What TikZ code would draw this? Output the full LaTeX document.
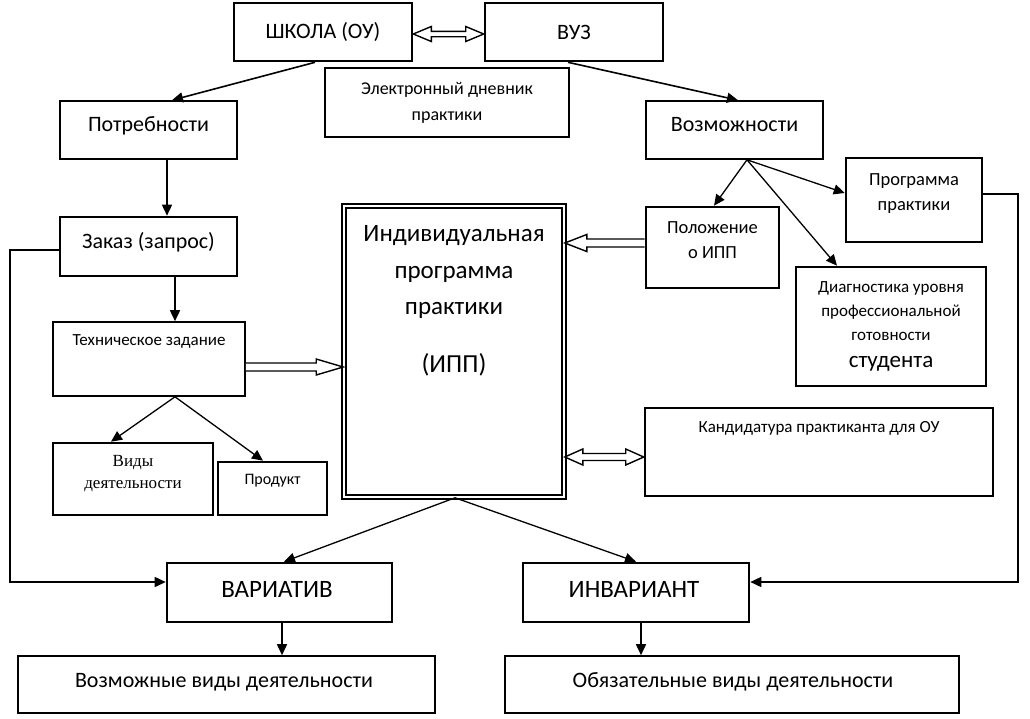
\documentclass[tikz,border=0pt]{standalone}
\usepackage{fontspec}
\setmainfont{Carlito}
\newfontfamily\vidyfont{Liberation Serif}
\usetikzlibrary{arrows.meta,calc}
\newcommand{\fsz}[2]{\fontsize{#1}{#2}\selectfont}
% open block arrow: #1 head length, #2 head half width, #3 shaft half width, #4 from, #5 to (tip)
\newcommand{\blkarrow}[5]{%
  \draw[blk] ($(#4)+(0,#3)$) -- ($(#5)!#1!(#4)+(0,#3)$) -- ($(#5)!#1!(#4)+(0,#2)$) -- (#5)
    -- ($(#5)!#1!(#4)+(0,-#2)$) -- ($(#5)!#1!(#4)+(0,-#3)$) -- ($(#4)+(0,-#3)$);}
\newcommand{\dblblkarrow}[5]{%
  \draw[blk] (#4) -- ($(#4)!#1!(#5)+(0,-#2)$) -- ($(#4)!#1!(#5)+(0,-#3)$) -- ($(#5)!#1!(#4)+(0,-#3)$)
    -- ($(#5)!#1!(#4)+(0,-#2)$) -- (#5) -- ($(#5)!#1!(#4)+(0,#2)$) -- ($(#5)!#1!(#4)+(0,#3)$)
    -- ($(#4)!#1!(#5)+(0,#3)$) -- ($(#4)!#1!(#5)+(0,#2)$) -- cycle;}
\tikzset{
  box/.style={draw, line width=1.6pt, inner sep=0pt, align=center},
  tbox/.style={draw, line width=2.6pt, inner sep=0pt, align=center},
  arr/.style={line width=1.6pt, -{Triangle[length=11pt,width=10pt]}},
  tarr/.style={line width=1.3pt, -{Triangle[length=11pt,width=10pt]}},
  blk/.style={line width=1.4pt, fill=white, line join=miter},
  txt/.style={inner sep=0pt, align=center},
  big/.style={font=\fsz{22}{26}},
  caps/.style={font=\fsz{25}{28}},
  mid/.style={font=\fsz{18}{26}},
}
\begin{document}
\begin{tikzpicture}[x=1pt,y=-1pt]
\useasboundingbox (0,0) rectangle (1030,718);
% boxes
\node[tbox, big, minimum width=178pt, minimum height=58pt] (shkola) at (323,32) {ШКОЛА (ОУ)};
\node[tbox, big, minimum width=178pt, minimum height=58pt] (vuz) at (574,32) {ВУЗ};
\node[box, mid, minimum width=244pt, minimum height=69pt] (diary) at (447,102.5) {Электронный дневник\\практики};
\node[box, minimum width=177pt, minimum height=58pt] (potr) at (148.5,130) {};
\node[txt, big] (potrtxt) at (148.5,126) {Потребности};
\node[box, minimum width=177pt, minimum height=58pt] (vozm) at (734.5,130) {};
\node[txt, big] (vozmtxt) at (734.5,125) {Возможности};
\node[tbox, minimum width=177pt, minimum height=59pt] (zakaz) at (148.5,246.5) {};
\node[txt, big] (zakaztxt) at (148.5,242) {Заказ (запрос)};
\node[box, minimum width=192pt, minimum height=74pt] (tz) at (149,359) {};
\node[txt, font=\fsz{17}{22}] (tztxt) at (149,341) {Техническое задание};
\node[tbox, minimum width=160pt, minimum height=72pt] (vidy) at (133,479) {};
\node[txt, font=\vidyfont\fsz{17}{22}] (vidytxt) at (133,474) {Виды\\деятельности};
\node[tbox, minimum width=109pt, minimum height=53pt] (prod) at (272.5,488.5) {};
\node[txt, font=\fsz{16}{20}] (prodtxt) at (272.5,481) {Продукт};
\node[draw, double, double distance=2.5pt, line width=1.6pt, minimum width=220pt, minimum height=291pt] (ipp) at (454,351.5) {};
\node[txt, font=\fsz{25}{36.5}] (ipptxt) at (454,272) {Индивидуальная\\программа\\практики};
\node[txt, font=\fsz{26}{30}] (ippabbr) at (454,365) {(ИПП)};
\node[tbox, minimum width=133pt, minimum height=81pt] (pol) at (712.5,247.5) {};
\node[txt, font=\fsz{18.5}{25}] (poltxt) at (712.5,240) {Положение\\о ИПП};
\node[tbox, minimum width=136pt, minimum height=84pt] (prog) at (914,200) {};
\node[txt, font=\fsz{18.5}{25}] (progtxt) at (914,194) {Программа\\практики};
\node[tbox, minimum width=190pt, minimum height=119pt] (diag) at (891,326.5) {};
\node[txt, font=\fsz{17}{24}] (diagtxt) at (891,311) {Диагностика уровня\\профессиональной\\готовности};
\node[txt, font=\fsz{23}{26}] (diagstud) at (891,364) {студента};
\node[tbox, minimum width=348pt, minimum height=88pt] (kand) at (819,452) {};
\node[txt, font=\fsz{17}{20}] (kandtxt) at (819,428) {Кандидатура практиканта для ОУ};
\node[tbox, minimum width=225pt, minimum height=59pt] (var) at (279.5,592.5) {};
\node[txt, caps] (vartxt) at (277,589) {ВАРИАТИВ};
\node[tbox, minimum width=226pt, minimum height=59pt] (inv) at (636,592.5) {};
\node[txt, caps] (invtxt) at (634,589) {ИНВАРИАНТ};
\node[box, minimum width=417pt, minimum height=57pt] (vozvid) at (226.5,684.5) {};
\node[txt, big] (vozvidtxt) at (224,682) {Возможные виды деятельности};
\node[box, minimum width=454pt, minimum height=57pt] (obvid) at (732,684.5) {};
\node[txt, big] (obvidtxt) at (733,682) {Обязательные виды деятельности};
% block arrows
\coordinate (s1) at (shkola.east |- 0,34);
\coordinate (s2) at (vuz.west |- 0,34);
\dblblkarrow{18pt}{7.5}{2.7}{s1}{s2}
\coordinate (p1) at (pol.west |- 0,243);
\coordinate (p2) at (ipp.east |- 0,243);
\blkarrow{22pt}{8.5}{4}{p1}{p2}
\coordinate (t1) at (tz.east |- 0,367);
\coordinate (t2) at (ipp.west |- 0,367);
\blkarrow{27pt}{8}{4}{t1}{t2}
\coordinate (k1) at (ipp.east |- 0,457);
\coordinate (k2) at (kand.west |- 0,457);
\dblblkarrow{18pt}{8}{3.5}{k1}{k2}
% arrows
\draw[arr] (shkola.south -| 315,0) -- (potr.north -| 172,0);
\draw[arr] (vuz.south -| 568,0) -- (vozm.north -| 738,0);
\draw[arr] (potr.south -| 167,0) -- (zakaz.north -| 167,0);
\draw[arr] (zakaz.south -| 175,0) -- (tz.north -| 175,0);
\draw[tarr] (tz.south -| 175,0) -- (vidy.north -| 111,0);
\draw[tarr] (tz.south -| 175,0) -- (prod.north -| 263,0);
\draw[tarr] (vozm.south -| 747,0) -- (pol.north -| 714,0);
\draw[tarr] (vozm.south -| 747,0) -- (prog.west |- 0,193);
\draw[tarr] (vozm.south -| 747,0) -- (diag.north -| 837,0);
\draw[tarr] (ipp.south -| 455,0) -- (var.north -| 284,0);
\draw[tarr] (ipp.south -| 455,0) -- (inv.north -| 636,0);
\draw[arr] (var.south -| 282,0) -- (vozvid.north -| 282,0);
\draw[arr] (inv.south -| 641,0) -- (obvid.north -| 641,0);
\draw[arr] (zakaz.west |- 0,250) -- (10,250) -- (10,582) -- (var.west |- 0,582);
\draw[arr] (prog.east |- 0,194) -- (1018,194) -- (1018,582) -- (inv.east |- 0,582);
\end{tikzpicture}
\end{document}
